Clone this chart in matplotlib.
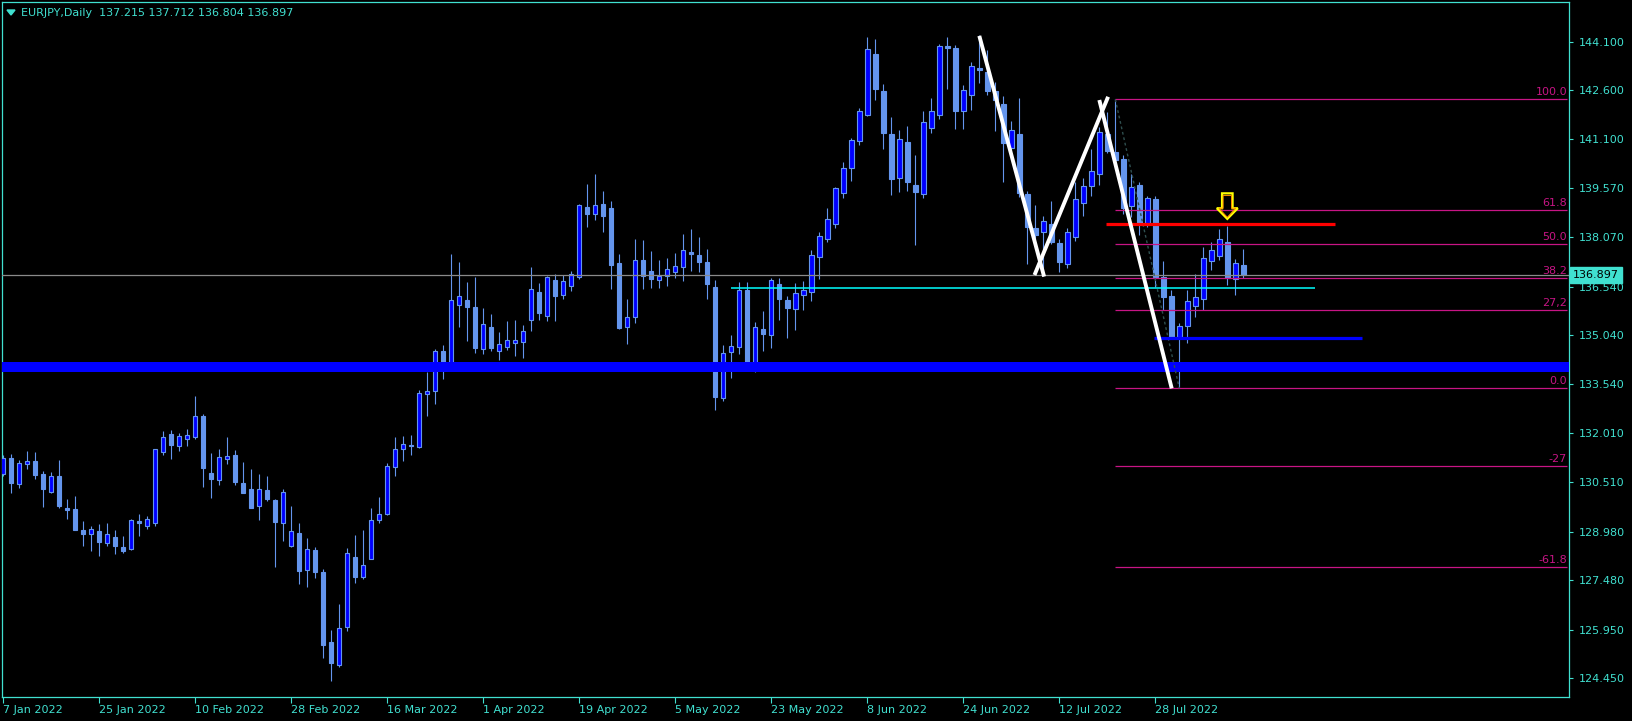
import numpy as np
import pandas as pd
import matplotlib
matplotlib.use("Agg")
import matplotlib.pyplot as plt
from matplotlib.patches import Polygon
from matplotlib.transforms import blended_transform_factory

# EURJPY daily bars, 7 Jan 2022 .. 12 Aug 2022
dates = pd.bdate_range("2022-01-07", periods=156)

opens = [
    130.75, 131.24, 130.44, 131.06, 131.15, 130.75, 130.21, 130.69, 129.71, 129.68,
    129.03, 128.90, 128.99, 128.62, 128.80, 128.50, 128.43, 129.31, 129.16, 129.26,
    131.45, 131.98, 131.63, 131.83, 131.91, 132.54, 130.79, 130.56, 131.21, 131.33,
    130.48, 130.29, 129.76, 130.26, 129.95, 129.23, 128.52, 128.93, 127.78, 128.41,
    127.73, 125.56, 124.87, 126.02, 128.19, 127.57, 128.14, 129.33, 129.51, 130.98,
    131.52, 131.65, 131.60, 133.22, 133.31, 134.54, 134.04, 135.96, 136.12, 135.91,
    134.61, 135.29, 134.56, 134.67, 134.79, 134.82, 135.50, 136.37, 135.64, 136.75,
    136.27, 136.55, 136.83, 139.00, 138.77, 139.09, 138.97, 137.27, 135.28, 135.60,
    137.36, 137.01, 136.76, 136.86, 137.00, 137.16, 137.61, 137.52, 137.29, 136.53,
    133.11, 134.53, 134.69, 136.43, 134.01, 135.23, 135.04, 136.61, 136.13, 135.84,
    136.27, 136.36, 137.44, 138.00, 138.46, 139.42, 140.19, 141.03, 141.85, 143.72,
    142.58, 141.25, 139.90, 141.00, 139.68, 139.39, 141.43, 141.83, 143.97, 143.91,
    141.95, 142.45, 143.28, 143.15, 142.58, 142.18, 140.81, 141.25, 139.40, 138.34,
    138.22, 138.47, 137.89, 137.25, 138.08, 139.13, 139.64, 140.01, 141.25, 140.71,
    140.48, 139.03, 139.68, 138.47, 139.23, 136.83, 136.25, 134.99, 135.31, 135.95,
    136.17, 137.34, 137.50, 137.92, 136.78, 137.215,
]
highs = [
    131.34, 131.37, 131.19, 131.46, 131.43, 130.85, 130.81, 131.19, 129.99, 130.08,
    129.31, 129.15, 129.21, 129.25, 129.03, 128.84, 129.37, 129.52, 129.46, 131.54,
    132.08, 132.12, 132.01, 132.15, 133.16, 132.61, 131.41, 131.53, 131.90, 131.49,
    131.13, 130.91, 130.76, 130.70, 130.00, 130.29, 129.77, 129.25, 128.78, 128.51,
    127.82, 125.94, 126.74, 128.47, 128.87, 129.03, 129.71, 130.05, 131.11, 131.90,
    131.93, 131.96, 133.35, 133.91, 134.61, 134.73, 137.55, 137.30, 136.68, 136.84,
    135.88, 135.70, 135.14, 135.48, 135.51, 135.36, 137.15, 136.65, 136.87, 136.93,
    136.89, 137.02, 139.09, 139.71, 140.02, 139.49, 139.18, 137.55, 136.16, 138.01,
    137.98, 137.64, 137.36, 137.42, 137.58, 138.17, 138.32, 138.07, 137.70, 136.75,
    134.74, 135.05, 136.68, 136.68, 135.45, 135.79, 136.81, 136.82, 136.25, 136.65,
    136.71, 137.67, 138.23, 138.97, 139.63, 140.39, 141.13, 142.04, 144.24, 144.18,
    142.79, 141.78, 141.36, 141.50, 140.60, 141.96, 142.36, 144.03, 144.25, 144.00,
    142.76, 143.47, 144.30, 143.84, 142.87, 142.43, 141.65, 142.36, 139.49, 139.05,
    138.72, 139.18, 138.00, 138.36, 139.77, 139.89, 140.79, 141.46, 141.92, 142.32,
    140.60, 140.02, 139.78, 139.35, 139.34, 137.34, 136.44, 135.43, 136.44, 136.93,
    137.75, 137.91, 138.31, 138.41, 137.40, 137.712,
]
lows = [
    130.70, 130.16, 130.34, 130.92, 130.61, 129.75, 130.18, 129.70, 129.37, 129.03,
    128.55, 128.39, 128.24, 128.55, 128.30, 128.33, 128.42, 128.85, 129.05, 129.16,
    131.35, 131.23, 131.48, 131.61, 131.85, 130.37, 130.03, 130.43, 131.07, 130.41,
    130.16, 129.70, 129.35, 129.93, 127.90, 128.70, 128.51, 127.35, 127.28, 127.56,
    125.07, 124.38, 124.80, 125.92, 127.40, 127.51, 128.12, 129.26, 129.50, 130.71,
    131.17, 131.35, 131.55, 132.55, 132.93, 133.70, 133.95, 135.30, 134.87, 134.50,
    134.47, 134.56, 134.29, 134.59, 134.41, 134.35, 135.18, 135.52, 135.49, 135.49,
    136.17, 136.42, 136.79, 138.39, 138.61, 138.24, 136.48, 135.24, 134.78, 135.43,
    136.48, 136.51, 136.51, 136.57, 136.82, 136.72, 137.03, 137.00, 136.17, 132.73,
    133.02, 133.73, 134.47, 134.07, 133.92, 134.56, 134.66, 135.52, 134.97, 135.21,
    135.83, 136.11, 136.79, 137.91, 138.36, 139.29, 139.81, 140.92, 141.82, 142.30,
    140.80, 139.38, 139.46, 139.50, 137.84, 139.29, 141.29, 141.72, 142.64, 141.39,
    141.39, 142.00, 142.83, 142.45, 141.34, 139.78, 140.76, 139.32, 137.25, 137.98,
    136.87, 137.85, 137.00, 137.11, 137.96, 138.72, 139.34, 139.68, 140.65, 140.40,
    138.77, 138.70, 138.13, 138.39, 136.54, 135.82, 134.95, 133.40, 134.81, 135.61,
    135.82, 137.05, 137.36, 136.59, 136.28, 136.804,
]
closes = [
    131.24, 130.47, 131.09, 131.15, 130.74, 130.30, 130.69, 129.78, 129.66, 129.04,
    128.92, 129.05, 128.67, 128.90, 128.55, 128.39, 129.33, 129.26, 129.36, 131.52,
    131.89, 131.66, 131.93, 131.95, 132.54, 130.95, 130.61, 131.27, 131.30, 130.52,
    130.18, 129.72, 130.30, 129.99, 129.29, 130.19, 128.99, 127.77, 128.43, 127.74,
    125.49, 124.92, 126.02, 128.31, 127.59, 127.94, 129.33, 129.51, 130.99, 131.52,
    131.67, 131.61, 133.25, 133.31, 134.54, 134.07, 136.12, 136.24, 135.92, 134.66,
    135.38, 134.66, 134.77, 134.88, 134.88, 135.16, 136.46, 135.74, 136.83, 136.26,
    136.70, 136.92, 139.05, 138.79, 139.05, 138.73, 137.22, 135.27, 135.59, 137.35,
    136.88, 136.79, 136.88, 137.07, 137.17, 137.67, 137.56, 137.31, 136.63, 133.14,
    134.48, 134.70, 136.43, 134.13, 135.28, 135.09, 136.73, 136.17, 135.89, 136.33,
    136.44, 137.51, 138.09, 138.64, 139.57, 140.19, 141.06, 141.95, 143.86, 142.65,
    141.29, 139.87, 141.10, 139.78, 139.47, 141.61, 141.95, 143.97, 143.92, 141.97,
    142.60, 143.34, 143.24, 142.59, 142.30, 140.97, 141.36, 139.44, 138.39, 138.14,
    138.56, 137.92, 137.31, 138.22, 139.23, 139.64, 140.10, 141.30, 140.74, 140.45,
    138.98, 139.61, 138.49, 139.29, 136.85, 136.21, 134.99, 135.33, 136.09, 136.21,
    137.41, 137.67, 138.00, 136.82, 137.26, 136.897,
]

price_ticks = [144.100, 142.600, 141.100, 139.570, 138.070, 136.540, 135.040,
               133.540, 132.010, 130.510, 128.980, 127.480, 125.950, 124.450]

# drawn objects (bar index, price)
zigzag = [[(122.0, 144.28), (130.1, 136.85)],
          [(128.9, 136.90), (138.1, 142.40)],
          [(137.0, 142.30), (146.05, 133.40)]]
fib_start, fib_high = 139, 142.32
fib_end, fib_low = 147, 133.40
fib_levels = [100.0, 61.8, 50.0, 38.2, 27.2, 0.0, -27.0, -61.8]
fib_labels = ["100.0", "61.8", "50.0", "38.2", "27,2", "0.0", "-27", "-61.8"]
band_low, band_high = 133.91, 134.21
cyan_level, cyan_from, cyan_to = 136.49, 91.0, 164.0
red_level, red_from, red_to = 138.46, 137.8, 166.5
blue_level, blue_from, blue_to = 134.95, 143.8, 169.8
arrow_bar, arrow_tip = 153, 138.63

TURQ = "#40E0D0"
WICK = "#6495ED"
FIB = "#C71585"

W, H = 1633, 721
fig = plt.figure(figsize=(W / 100, H / 100), dpi=100, facecolor="black")
ax = fig.add_axes([2 / W, 24 / H, 1567 / W, 695 / H], facecolor="black")

o = np.array(opens); h = np.array(highs); l = np.array(lows); c = np.array(closes)
x = np.arange(len(o))
up = c >= o

ax.vlines(x, l, h, color=WICK, lw=0.8, zorder=2)
ax.bar(x[up], np.maximum(c - o, 0.03)[up], bottom=o[up], width=0.55,
       color="#0000FF", edgecolor=WICK, lw=0.8, zorder=3)
ax.bar(x[~up], np.maximum(o - c, 0.03)[~up], bottom=c[~up], width=0.55,
       color=WICK, edgecolor=WICK, lw=0.8, zorder=3)

xmax = 195.71
ax.set_xlim(-0.16, xmax)
ax.set_ylim(123.875, 145.325)

# objects on top of the candles
ax.axhspan(band_low, band_high, color="#0000FF", lw=0, zorder=4)
ax.axhline(c[-1], color="#8a8a8a", lw=0.9, zorder=4)
ax.hlines(cyan_level, cyan_from, cyan_to, color="#00FFFF", lw=1.1, zorder=5)
ax.hlines(red_level, red_from, red_to, color="#FF0000", lw=2.3, zorder=6)
ax.hlines(blue_level, blue_from, blue_to, color="#0000FF", lw=2.3, zorder=6)

rng = fib_high - fib_low
tr = blended_transform_factory(ax.transAxes, ax.transData)
for lev, lab in zip(fib_levels, fib_labels):
    p = fib_low + rng * lev / 100.0
    ax.hlines(p, fib_start, 195.45, color=FIB, lw=0.9, zorder=5)
    ax.text(0.9988, p + 0.07, lab, transform=tr, ha="right", va="bottom",
            color=FIB, fontsize=8, zorder=7)
ax.plot([fib_start, fib_end], [fib_high, fib_low], color="#2F4F4F", lw=1,
        ls=(0, (2, 2)), zorder=5)

for seg in zigzag:
    (x0, y0), (x1, y1) = seg
    ax.plot([x0, x1], [y0, y1], color="white", lw=2.8, zorder=8,
            solid_capstyle="butt")

# yellow down arrow above the bar
ax_pts = [(-0.66, 0.79), (0.66, 0.79), (0.66, 0.33), (1.31, 0.33),
          (0.0, 0.0), (-1.31, 0.33), (-0.66, 0.33)]
arrow = Polygon([(arrow_bar + dx, arrow_tip + dy) for dx, dy in ax_pts],
                closed=True, fill=False, edgecolor="#FFFF00", lw=1.6, zorder=9)
ax.add_patch(arrow)
inner = Polygon([(arrow_bar + dx * 0.8, arrow_tip + 0.05 + dy * 0.85) for dx, dy in ax_pts],
                closed=True, fill=False, edgecolor="#FF8C00", lw=0.7, zorder=9)
ax.add_patch(inner)

# axes styling
for s in ax.spines.values():
    s.set_color(TURQ)
    s.set_linewidth(0.9)
ax.yaxis.tick_right()
ax.set_yticks(price_ticks)
ax.set_yticklabels([f"{v:.3f}" for v in price_ticks])
ax.tick_params(axis="y", colors=TURQ, labelcolor=TURQ, length=3, width=0.8,
               direction="out", pad=4, labelsize=8)

tick_idx = list(range(0, len(o), 12))
ax.set_xticks(tick_idx)
ax.set_xticklabels([f"{dates[i].day} {dates[i].strftime('%b %Y')}" for i in tick_idx],
                   ha="left")
ax.tick_params(axis="x", colors=TURQ, labelcolor=TURQ, length=4, width=0.8,
               direction="out", pad=2, labelsize=8)
for t in ax.get_xticklabels():
    t.set_x(t.get_position()[0])

# current price tag
ax.text(1.0027, c[-1], f"{c[-1]:.3f}", transform=tr, ha="left", va="center",
        color="black", fontsize=8, zorder=10, clip_on=False,
        bbox=dict(boxstyle="square,pad=0.25", fc=TURQ, ec=TURQ))

# header
fig.patches.append(Polygon([(7 / W, 1 - 10 / H), (15 / W, 1 - 10 / H), (11 / W, 1 - 15 / H)],
                           closed=True, transform=fig.transFigure, color=TURQ))
fig.text(21 / W, 1 - 12.5 / H,
         f"EURJPY,Daily  {opens[-1]:.3f} {highs[-1]:.3f} {lows[-1]:.3f} {closes[-1]:.3f}",
         color=TURQ, fontsize=8, va="center", ha="left")

fig.savefig("out.png", dpi=100, facecolor="black")
